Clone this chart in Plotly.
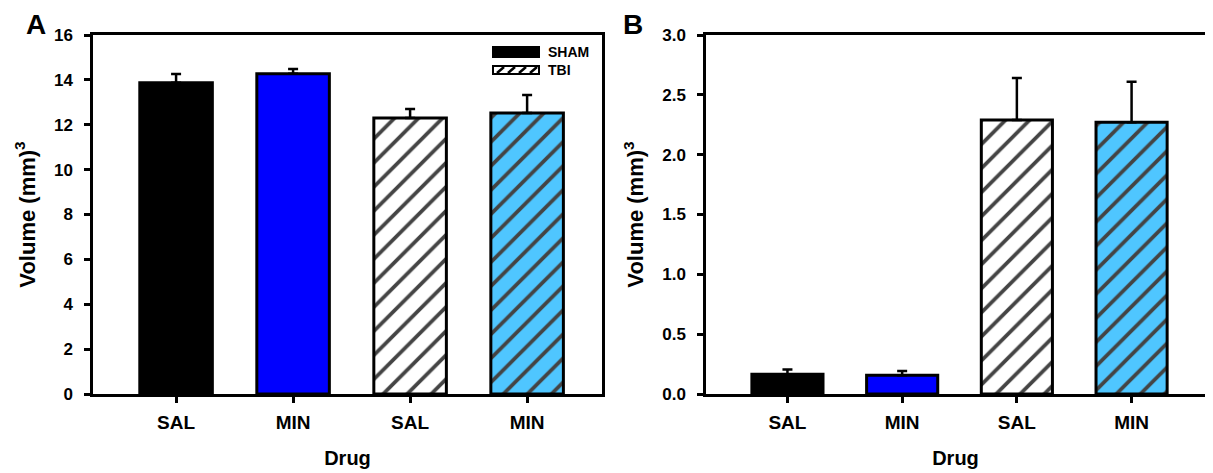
import plotly.graph_objects as go

categories = ["SAL", "MIN", "SAL", "MIN"]
groups = ["SHAM", "SHAM", "TBI", "TBI"]
vol_a = [13.87, 14.27, 12.30, 12.52]
err_a = [0.39, 0.22, 0.40, 0.81]
vol_b = [0.165, 0.157, 2.29, 2.27]
err_b = [0.040, 0.036, 0.35, 0.34]
colors = ["#000000", "#0000FF", "#FFFFFF", "#4FC6FF"]
patterns = ["", "", "/", "/"]
legend_names = ["SHAM", "TBI"]

FONT = "Arial, Liberation Sans, sans-serif"
W, H = 1213, 473
OFF = 8  # default page body margin
xpos = list(range(len(categories)))

fig = go.Figure()

def add_bars(vals, errs, xa, ya):
    fig.add_trace(go.Bar(
        x=xpos, y=vals, xaxis=xa, yaxis=ya, width=0.62,
        marker=dict(color=colors, line=dict(color="black", width=3),
                    pattern=dict(shape=patterns, fgcolor="black", fgopacity=1,
                                 size=17, solidity=0.22)),
        error_y=dict(type="data", array=errs, arrayminus=[0]*len(errs), symmetric=False,
                     color="black", thickness=2.5, width=5),
        showlegend=False, hoverinfo="skip"))

add_bars(vol_a, err_a, "x", "y")
add_bars(vol_b, err_b, "x2", "y2")

def px(x):
    return (x - OFF) / W

def py(y):
    return 1 - (y - OFF) / H

ydom = [py(394), py(35)]
axis_common = dict(showline=True, linecolor="black", linewidth=2.5, mirror=True,
                   ticks="outside", ticklen=6, tickwidth=2.5, tickcolor="black",
                   showgrid=False, zeroline=False, automargin=False)

xcommon = dict(axis_common, tickmode="array", tickvals=xpos,
               ticktext=[f"<b>{c}</b>" for c in categories],
               tickfont=dict(family=FONT, size=19, color="black"),
               ticklabelstandoff=3,
               range=[-0.71, 3.64],
               title=dict(text="<b>Drug</b>", font=dict(family=FONT, size=20, color="black"), standoff=20))

ytitle = dict(text="<b>Volume (mm)<sup>3</sup></b>", font=dict(family=FONT, size=22, color="black"), standoff=13)
ytickfont = dict(family=FONT, size=17, color="black")

# legend drawn as shapes + text in panel A
shapes = [
    dict(type="rect", xref="paper", yref="paper", x0=px(493), x1=px(539), y0=py(57), y1=py(47),
         fillcolor="black", line=dict(color="black", width=2)),
    dict(type="rect", xref="paper", yref="paper", x0=px(493), x1=px(539), y0=py(74), y1=py(66),
         fillcolor="white", line=dict(color="black", width=2)),
]
for k in range(4):
    x0 = 497 + k * 11
    shapes.append(dict(type="line", xref="paper", yref="paper",
                       x0=px(x0), y0=py(73), x1=px(x0 + 7), y1=py(67),
                       line=dict(color="black", width=2.5)))

annotations = [
    dict(text="<b>A</b>", x=px(36), y=py(24), xref="paper", yref="paper", showarrow=False,
         xanchor="center", yanchor="middle", borderpad=0,
         font=dict(family=FONT, size=28, color="black")),
    dict(text="<b>B</b>", x=px(633), y=py(24), xref="paper", yref="paper", showarrow=False,
         xanchor="center", yanchor="middle", borderpad=0,
         font=dict(family=FONT, size=28, color="black")),
]
for name, yy in zip(legend_names, [52, 70]):
    annotations.append(dict(text=f"<b>{name}</b>", x=px(546), y=py(yy), xref="paper", yref="paper",
                            xanchor="left", yanchor="middle", showarrow=False,
                            font=dict(family=FONT, size=14, color="black")))

fig.update_layout(
    width=W, height=H, margin=dict(l=0, r=0, t=0, b=0),
    paper_bgcolor="white", plot_bgcolor="white",
    font=dict(family=FONT, color="black"),
    barmode="overlay", showlegend=False,
    xaxis=dict(xcommon, domain=[px(93), px(602)], anchor="y"),
    yaxis=dict(axis_common, domain=ydom, anchor="x", range=[0, 16], tickmode="array",
               tickvals=list(range(0, 17, 2)), ticktext=[f"<b>{v}</b>" for v in range(0, 17, 2)],
               tickfont=ytickfont, ticklabelstandoff=8, title=ytitle),
    xaxis2=dict(xcommon, domain=[px(706), px(1205)], anchor="y2"),
    yaxis2=dict(axis_common, domain=ydom, anchor="x2", range=[0, 3], tickmode="array",
                tickvals=[0, 0.5, 1, 1.5, 2, 2.5, 3],
                ticktext=[f"<b>{v:.1f}</b>" for v in [0, 0.5, 1, 1.5, 2, 2.5, 3]],
                tickfont=ytickfont, ticklabelstandoff=8, title=ytitle),
    shapes=shapes,
    annotations=annotations,
)

fig.write_html("out.html")
